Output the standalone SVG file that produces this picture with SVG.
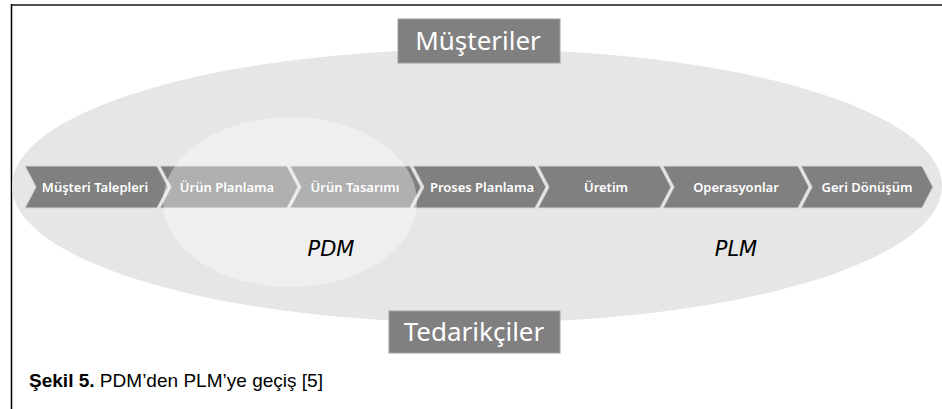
<svg xmlns="http://www.w3.org/2000/svg" width="942" height="409" viewBox="0 0 942 409">
<style>
.chev{fill:#808080;stroke:#d6d6d6;stroke-width:1}
.ct{font-family:"Noto Sans","Open Sans","DejaVu Sans",sans-serif;font-size:13px;font-weight:600;fill:#ffffff;text-anchor:middle}
.box{fill:#808080;stroke:#a0a0a0;stroke-width:1}
.bt{font-family:"Noto Sans","Open Sans","DejaVu Sans",sans-serif;font-size:26px;fill:#ffffff;text-anchor:middle}
.it{font-family:"DejaVu Sans","Verdana",sans-serif;font-size:21px;font-style:italic;fill:#000000;text-anchor:middle}
.cap{font-family:"Liberation Sans",Arial,sans-serif;font-size:19px;fill:#000000}
</style>
<rect width="942" height="409" fill="#ffffff"/>
<g id="frame">
<line x1="11" y1="5" x2="942" y2="5" stroke="#505050" stroke-width="2"/>
<line x1="11.5" y1="4" x2="11.5" y2="409" stroke="#000000" stroke-width="1.5"/>
</g>
<ellipse id="plm-area" cx="477" cy="186" rx="465" ry="137" fill="#e6e6e6"/>
<g id="chevrons">
<g id="n1"><path class="chev" d="M25,166 L157,166 L168,187 L157,208 L25,208 L36,187 Z"/><text class="ct" x="95" y="192">Müşteri Talepleri</text></g>
<g id="n2"><path class="chev" d="M160,166 L287,166 L298,187 L287,208 L160,208 L171,187 Z"/><text class="ct" x="227" y="192">Ürün Planlama</text></g>
<g id="n3"><path class="chev" d="M290,166 L410,166 L421,187 L410,208 L290,208 L301,187 Z"/><text class="ct" x="355" y="192">Ürün Tasarımı</text></g>
<g id="n4"><path class="chev" d="M413,166 L535,166 L546,187 L535,208 L413,208 L424,187 Z"/><text class="ct" x="482" y="192">Proses Planlama</text></g>
<g id="n5"><path class="chev" d="M538,166 L660,166 L671,187 L660,208 L538,208 L549,187 Z"/><text class="ct" x="606" y="192">Üretim</text></g>
<g id="n6"><path class="chev" d="M663,166 L798,166 L809,187 L798,208 L663,208 L674,187 Z"/><text class="ct" x="736" y="192">Operasyonlar</text></g>
<g id="n7"><path class="chev" d="M801,166 L922,166 L933,187 L922,208 L801,208 L812,187 Z"/><text class="ct" x="867" y="192">Geri Dönüşüm</text></g>
</g>
<g id="connectors"/>
<ellipse id="pdm-area" cx="290" cy="202" rx="127" ry="85" fill="#ffffff" fill-opacity="0.38"/>
<g id="pdm-label"><text class="it" x="331" y="256">PDM</text></g>
<g id="plm-label"><text class="it" x="736" y="256">PLM</text></g>
<g id="musteriler"><rect class="box" x="398" y="19" width="162" height="44"/><text class="bt" x="478" y="50">Müşteriler</text></g>
<g id="tedarikciler"><rect class="box" x="389" y="311" width="171" height="42"/><text class="bt" x="474" y="341">Tedarikçiler</text></g>
<g id="caption"><text class="cap" x="29" y="387" textLength="294" lengthAdjust="spacingAndGlyphs"><tspan font-weight="bold">Şekil 5.</tspan> PDM’den PLM’ye geçiş [5]</text></g>
</svg>
